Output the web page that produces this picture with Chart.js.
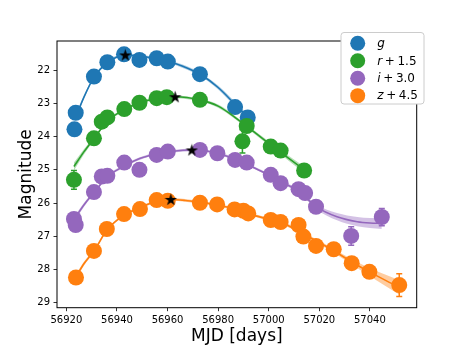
<!DOCTYPE html>
<html><head><meta charset="utf-8">
<script src="https://cdn.jsdelivr.net/npm/chart.js@4.4.0/dist/chart.umd.min.js"></script>
<style>html,body{margin:0;padding:0;background:#fff;}canvas{display:block;}</style>
</head><body>
<canvas id="c" width="463" height="347"></canvas>
<script>
// ---------- data ----------
const bandNames = ['g', 'r', 'i', 'z'];
const bandOffsets = ['', '+ 1.5', '+ 3.0', '+ 4.5'];
const xTicks = [56920, 56940, 56960, 56980, 57000, 57020, 57040];
const yTicks = [22, 23, 24, 25, 26, 27, 28, 29];

const mjdG = [56923.2, 56923.7, 56930.9, 56936.2, 56942.8, 56948.9, 56955.7, 56960.1, 56972.8, 56986.7, 56991.7];
const magG = [23.78, 23.28, 22.19, 21.76, 21.52, 21.69, 21.64, 21.74, 22.12, 23.11, 23.42];
const errG = [0.05, 0.05, 0.04, 0.04, 0.04, 0.04, 0.04, 0.04, 0.05, 0.06, 0.08];

const mjdR = [56923.0, 56930.9, 56934.0, 56936.2, 56942.9, 56948.9, 56955.7, 56959.7, 56972.8, 56989.6, 56991.3, 57000.8, 57004.7, 57014.0];
const magR = [25.30, 24.05, 23.55, 23.42, 23.17, 22.98, 22.84, 22.81, 22.89, 24.14, 23.68, 24.30, 24.42, 25.02];
const errR = [0.28, 0.05, 0.04, 0.04, 0.04, 0.04, 0.04, 0.04, 0.04, 0.35, 0.05, 0.05, 0.05, 0.08];

const mjdI = [56923.0, 56923.7, 56930.9, 56934.0, 56936.2, 56942.9, 56948.9, 56955.7, 56960.1, 56972.8, 56979.7, 56986.7, 56991.3, 57000.8, 57004.7, 57011.8, 57014.4, 57018.7, 57032.6, 57044.7];
const magI = [26.48, 26.66, 25.67, 25.20, 25.18, 24.78, 25.00, 24.55, 24.45, 24.40, 24.50, 24.70, 24.78, 25.15, 25.40, 25.58, 25.70, 26.11, 26.99, 26.42];
const errI = [0.08, 0.08, 0.05, 0.05, 0.05, 0.04, 0.05, 0.04, 0.04, 0.04, 0.04, 0.04, 0.05, 0.05, 0.05, 0.06, 0.06, 0.08, 0.28, 0.26];

const mjdZ = [56923.8, 56930.9, 56936.0, 56942.8, 56949.1, 56955.7, 56960.1, 56972.8, 56979.6, 56986.5, 56990.0, 56991.9, 57000.8, 57004.7, 57011.8, 57013.7, 57018.7, 57025.7, 57032.8, 57039.8, 57051.6];
const magZ = [28.24, 27.44, 26.78, 26.33, 26.18, 25.91, 25.93, 25.99, 26.04, 26.19, 26.23, 26.31, 26.51, 26.57, 26.66, 27.01, 27.29, 27.39, 27.81, 28.07, 28.47];
const errZ = [0.12, 0.08, 0.05, 0.04, 0.04, 0.04, 0.04, 0.04, 0.04, 0.04, 0.04, 0.04, 0.05, 0.05, 0.05, 0.06, 0.07, 0.08, 0.10, 0.15, 0.34];

// smooth fits
const fitMjdG = [56923.5, 56927, 56931, 56936, 56940, 56943.3, 56948, 56955, 56960, 56966, 56973, 56980, 56987, 56993.5];
const fitMagG = [23.45, 22.80, 22.20, 21.78, 21.60, 21.54, 21.57, 21.64, 21.73, 21.88, 22.13, 22.52, 23.05, 23.55];
const fitErrG = [0.06, 0.05, 0.04, 0.04, 0.04, 0.04, 0.04, 0.04, 0.04, 0.05, 0.05, 0.06, 0.07, 0.09];

const fitMjdR = [56923, 56927, 56931, 56936, 56943, 56949, 56955, 56963, 56973, 56980, 56986, 56992, 57000, 57007, 57015];
const fitMagR = [24.90, 24.45, 24.05, 23.55, 23.18, 22.98, 22.86, 22.80, 22.90, 23.08, 23.38, 23.73, 24.20, 24.60, 25.05];
const fitErrR = [0.12, 0.08, 0.05, 0.04, 0.04, 0.04, 0.04, 0.04, 0.04, 0.05, 0.05, 0.05, 0.06, 0.07, 0.10];

const fitMjdI = [56923, 56927, 56931, 56936, 56943, 56949, 56955, 56962, 56969.6, 56976, 56982, 56988, 56994, 57000, 57006, 57012, 57019, 57027, 57035, 57040, 57044.7];
const fitMagI = [26.50, 26.05, 25.68, 25.22, 24.88, 24.66, 24.53, 24.44, 24.40, 24.44, 24.55, 24.71, 24.93, 25.15, 25.40, 25.65, 26.12, 26.41, 26.56, 26.60, 26.61];
const fitErrI = [0.08, 0.06, 0.05, 0.04, 0.04, 0.04, 0.04, 0.04, 0.04, 0.04, 0.04, 0.04, 0.04, 0.04, 0.05, 0.05, 0.07, 0.11, 0.14, 0.15, 0.17];

const fitMjdZ = [56923.8, 56927, 56931, 56936, 56943, 56949, 56955, 56961.3, 56967, 56973, 56980, 56987, 56993, 57000, 57006, 57012, 57019, 57026, 57033, 57040, 57046, 57052];
const fitMagZ = [28.22, 27.82, 27.43, 26.82, 26.35, 26.14, 25.96, 25.89, 25.92, 25.98, 26.06, 26.19, 26.34, 26.49, 26.62, 26.85, 27.15, 27.45, 27.78, 28.08, 28.32, 28.55];
const fitErrZ = [0.08, 0.06, 0.05, 0.04, 0.04, 0.04, 0.04, 0.04, 0.04, 0.04, 0.04, 0.04, 0.04, 0.04, 0.05, 0.05, 0.05, 0.06, 0.08, 0.12, 0.17, 0.22];

// peak (star) markers
const peakMjd = [56943.3, 56963.0, 56969.6, 56961.3];
const peakMag = [21.54, 22.80, 24.40, 25.89];

// ---------- styling ----------
const colors = ['#1f77b4', '#2ca02c', '#9467bd', '#ff7f0e'];
const bandFill = ['rgba(31,119,180,0.35)', 'rgba(44,160,44,0.35)', 'rgba(148,103,189,0.4)', 'rgba(255,127,14,0.4)'];

const obs = [[mjdG, magG, errG], [mjdR, magR, errR], [mjdI, magI, errI], [mjdZ, magZ, errZ]];
const fits = [[fitMjdG, fitMagG, fitErrG], [fitMjdR, fitMagR, fitErrR], [fitMjdI, fitMagI, fitErrI], [fitMjdZ, fitMagZ, fitErrZ]];

function pts(xs, ys, es, s) { return xs.map((x, k) => ({x: x, y: ys[k] + (es ? s * es[k] : 0)})); }

function starCanvas(size) {
  const c = document.createElement('canvas'); c.width = c.height = size;
  const g = c.getContext('2d'); g.fillStyle = '#000'; g.beginPath();
  const R = size / 2, r = R * 0.382;
  for (let k = 0; k < 10; k++) {
    const a = -Math.PI / 2 + k * Math.PI / 5, rad = (k % 2) ? r : R;
    g.lineTo(R + rad * Math.cos(a), R + rad * Math.sin(a) + 0.6);
  }
  g.closePath(); g.fill(); return c;
}

const datasets = [];
let ord = 100;
for (let b = 0; b < 4; b++) {
  const [fx, fy, fe] = fits[b];
  const [ox, oy, oe] = obs[b];
  datasets.push({data: pts(fx, fy, fe, -1), showLine: true, pointRadius: 0, borderColor: 'rgba(0,0,0,0)', borderWidth: 1,
    backgroundColor: bandFill[b], fill: '+1', cubicInterpolationMode: 'monotone', order: ord--});
  datasets.push({data: pts(fx, fy, fe, 1), showLine: true, pointRadius: 0, borderColor: 'rgba(0,0,0,0)', borderWidth: 1,
    fill: false, cubicInterpolationMode: 'monotone', order: ord--});
  datasets.push({data: pts(fx, fy), showLine: true, pointRadius: 0, borderColor: colors[b], borderWidth: 1.6,
    fill: false, cubicInterpolationMode: 'monotone', order: ord--});
  datasets.push({data: pts(ox, oy), showLine: false, pointRadius: 8, pointHoverRadius: 8, pointBorderWidth: 0,
    backgroundColor: colors[b], borderColor: colors[b], errors: oe, order: ord--});
}
datasets.push({data: pts(peakMjd, peakMag), showLine: false, pointStyle: starCanvas(13), pointRadius: 6, order: 0});

const errPlugin = {
  id: 'errbars',
  beforeDatasetDraw(chart, args) {
    const ds = chart.data.datasets[args.index];
    if (!ds.errors) return;
    const {ctx, scales: {x, y}} = chart;
    ctx.save(); ctx.strokeStyle = ds.backgroundColor; ctx.lineWidth = 1.5;
    ds.data.forEach((p, k) => {
      const e = ds.errors[k], px = x.getPixelForValue(p.x);
      const y1 = y.getPixelForValue(p.y - e), y2 = y.getPixelForValue(p.y + e);
      ctx.beginPath(); ctx.moveTo(px, y1); ctx.lineTo(px, y2);
      ctx.moveTo(px - 3, y1); ctx.lineTo(px + 3, y1);
      ctx.moveTo(px - 3, y2); ctx.lineTo(px + 3, y2); ctx.stroke();
    });
    ctx.restore();
  }
};

const framePlugin = {
  id: 'frame',
  afterDraw(chart) {
    const {ctx, chartArea: a} = chart;
    ctx.save();
    ctx.strokeStyle = '#000'; ctx.lineWidth = 1;
    ctx.strokeRect(a.left, a.top, a.right - a.left, a.bottom - a.top);
    // legend
    const lx = 341, ly = 32.5, lw = 83, lh = 71.5, rr = 3;
    ctx.beginPath();
    ctx.moveTo(lx + rr, ly); ctx.lineTo(lx + lw - rr, ly); ctx.quadraticCurveTo(lx + lw, ly, lx + lw, ly + rr);
    ctx.lineTo(lx + lw, ly + lh - rr); ctx.quadraticCurveTo(lx + lw, ly + lh, lx + lw - rr, ly + lh);
    ctx.lineTo(lx + rr, ly + lh); ctx.quadraticCurveTo(lx, ly + lh, lx, ly + lh - rr);
    ctx.lineTo(lx, ly + rr); ctx.quadraticCurveTo(lx, ly, lx + rr, ly); ctx.closePath();
    ctx.fillStyle = '#fff'; ctx.fill(); ctx.strokeStyle = '#cccccc'; ctx.lineWidth = 1; ctx.stroke();
    for (let k = 0; k < 4; k++) {
      const cy = 43.3 + k * 17.45;
      ctx.beginPath(); ctx.arc(357.7, cy, 7.5, 0, Math.PI * 2); ctx.fillStyle = colors[k]; ctx.fill();
      ctx.fillStyle = '#000'; ctx.textBaseline = 'alphabetic'; ctx.textAlign = 'left';
      let tx = 377.3; const by = cy + 3.8;
      ctx.font = 'italic 12px "DejaVu Sans"';
      ctx.fillText(bandNames[k], tx, by);
      tx += ctx.measureText(bandNames[k]).width;
      if (bandOffsets[k]) {
        const parts = bandOffsets[k].split(' ');
        ctx.font = '12px "DejaVu Sans"';
        tx += 2.6; ctx.fillText(parts[0], tx, by); tx += ctx.measureText(parts[0]).width + 2.6;
        ctx.fillText(parts[1], tx, by);
      }
    }
    ctx.restore();
  }
};

Chart.defaults.font.family = '"DejaVu Sans"';
Chart.defaults.color = '#000';

new Chart(document.getElementById('c'), {
  type: 'scatter',
  data: {datasets: datasets},
  plugins: [errPlugin, framePlugin],
  options: {
    responsive: false, animation: false, devicePixelRatio: 1,
    layout: {padding: {left: 0, top: 41, right: 46.3, bottom: 0}},
    plugins: {legend: {display: false}, tooltip: {enabled: false}},
    elements: {line: {tension: 0.4}},
    scales: {
      x: {
        type: 'linear', min: 56916.3, max: 57058.5,
        afterFit(s) { s.height = 39.3; },
        afterBuildTicks(s) { s.ticks = xTicks.map(v => ({value: v})); },
        ticks: {font: {size: 10}, color: '#000', maxRotation: 0, padding: 3.5, callback: v => String(v), autoSkip: false},
        grid: {display: true, drawOnChartArea: false, drawTicks: true, tickLength: 3.5, tickColor: '#000', tickWidth: 0.8},
        border: {display: false},
        title: {display: true, text: 'MJD [days]', font: {size: 17}, color: '#000', padding: {top: 0, bottom: 0}}
      },
      y: {
        type: 'linear', reverse: true, min: 21.12, max: 29.15,
        afterFit(s) { s.width = 57; },
        afterBuildTicks(s) { s.ticks = yTicks.map(v => ({value: v})); },
        ticks: {font: {size: 10}, color: '#000', padding: 3.5, callback: v => String(v), autoSkip: false},
        grid: {display: true, drawOnChartArea: false, drawTicks: true, tickLength: 3.5, tickColor: '#000', tickWidth: 0.8},
        border: {display: false},
        title: {display: true, text: 'Magnitude', font: {size: 17}, color: '#000', padding: {top: 16, bottom: 0}}
      }
    }
  }
});
</script>
</body></html>
